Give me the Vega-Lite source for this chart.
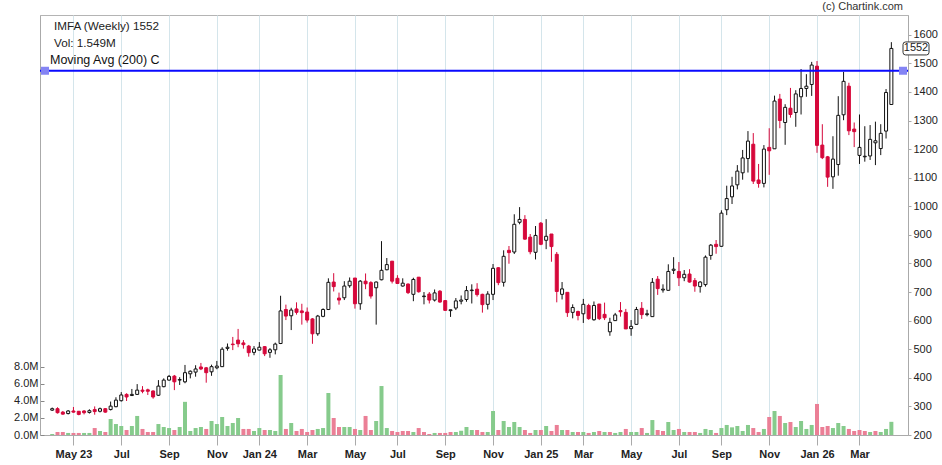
{
"$schema": "https://vega.github.io/schema/vega-lite/v6.json",
"width": 868, "height": 420,
"autosize": {"type": "none"},
"padding": {"left": 40, "top": 15, "right": 34, "bottom": 30},
"background": "white",
"config": {"view": {"stroke": "#b4b4b4"}, "font": "Liberation Sans", "text": {"font": "Liberation Sans"},
 "axisRight": {"values": [200, 300, 400, 500, 600, 700, 800, 900, 1000, 1100, 1200, 1300, 1400, 1500, 1600], "format": "d", "labelOverlap": false, "grid": true, "gridColor": "#d4e5eb", "tickSize": 3, "labelPadding": 2, "labelFontSize": 11, "labelColor": "#222", "domainColor": "#aaaaaa", "tickColor": "#aaaaaa", "title": null}},
"datasets": {
"w": [
{"d":"2023-04-03","o":287,"h":296,"l":284,"c":292,"v":0.12,"vc":"up"},
{"d":"2023-04-10","o":292,"h":297,"l":275,"c":278,"v":0.35,"vc":"down"},
{"d":"2023-04-17","o":280,"h":284,"l":271,"c":273,"v":0.35,"vc":"down"},
{"d":"2023-04-24","o":275,"h":287,"l":272,"c":284,"v":0.24,"vc":"up"},
{"d":"2023-05-01","o":284,"h":298,"l":278,"c":280,"v":0.24,"vc":"down"},
{"d":"2023-05-08","o":283,"h":284,"l":269,"c":272,"v":0.24,"vc":"down"},
{"d":"2023-05-15","o":284,"h":287,"l":272,"c":278,"v":0.24,"vc":"up"},
{"d":"2023-05-22","o":279,"h":290,"l":275,"c":285,"v":0.24,"vc":"up"},
{"d":"2023-05-29","o":289,"h":300,"l":271,"c":282,"v":0.82,"vc":"down"},
{"d":"2023-06-05","o":283,"h":296,"l":279,"c":292,"v":0.47,"vc":"up"},
{"d":"2023-06-12","o":292,"h":294,"l":278,"c":280,"v":0.35,"vc":"down"},
{"d":"2023-06-19","o":289,"h":317,"l":286,"c":301,"v":1.88,"vc":"up"},
{"d":"2023-06-26","o":299,"h":332,"l":297,"c":322,"v":1.29,"vc":"up"},
{"d":"2023-07-03","o":320,"h":350,"l":317,"c":340,"v":1.06,"vc":"up"},
{"d":"2023-07-10","o":342,"h":346,"l":319,"c":333,"v":0.59,"vc":"down"},
{"d":"2023-07-17","o":338,"h":361,"l":337,"c":342,"v":1.06,"vc":"up"},
{"d":"2023-07-24","o":342,"h":378,"l":340,"c":357,"v":2.24,"vc":"up"},
{"d":"2023-07-31","o":357,"h":371,"l":346,"c":353,"v":0.71,"vc":"down"},
{"d":"2023-08-07","o":358,"h":362,"l":340,"c":353,"v":0.35,"vc":"down"},
{"d":"2023-08-14","o":354,"h":356,"l":327,"c":333,"v":0.35,"vc":"down"},
{"d":"2023-08-21","o":339,"h":392,"l":337,"c":371,"v":1.29,"vc":"up"},
{"d":"2023-08-28","o":369,"h":398,"l":367,"c":392,"v":0.94,"vc":"up"},
{"d":"2023-09-04","o":392,"h":410,"l":390,"c":405,"v":0.82,"vc":"up"},
{"d":"2023-09-11","o":406,"h":410,"l":357,"c":386,"v":0.59,"vc":"down"},
{"d":"2023-09-18","o":392,"h":402,"l":375,"c":394,"v":0.94,"vc":"up"},
{"d":"2023-09-25","o":386,"h":445,"l":381,"c":418,"v":3.9,"vc":"up"},
{"d":"2023-10-02","o":414,"h":426,"l":398,"c":423,"v":0.47,"vc":"up"},
{"d":"2023-10-09","o":420,"h":444,"l":404,"c":431,"v":0.82,"vc":"up"},
{"d":"2023-10-16","o":438,"h":452,"l":427,"c":431,"v":0.94,"vc":"up"},
{"d":"2023-10-23","o":435,"h":438,"l":383,"c":418,"v":0.71,"vc":"down"},
{"d":"2023-10-30","o":421,"h":446,"l":407,"c":439,"v":1.65,"vc":"up"},
{"d":"2023-11-06","o":435,"h":459,"l":430,"c":441,"v":1.29,"vc":"up"},
{"d":"2023-11-13","o":439,"h":507,"l":438,"c":500,"v":2.12,"vc":"up"},
{"d":"2023-11-20","o":503,"h":520,"l":495,"c":507,"v":1.06,"vc":"up"},
{"d":"2023-11-27","o":518,"h":543,"l":497,"c":516,"v":1.41,"vc":"up"},
{"d":"2023-12-04","o":532,"h":571,"l":507,"c":519,"v":2.0,"vc":"up"},
{"d":"2023-12-11","o":522,"h":532,"l":502,"c":516,"v":0.71,"vc":"down"},
{"d":"2023-12-18","o":511,"h":515,"l":474,"c":488,"v":0.71,"vc":"down"},
{"d":"2023-12-25","o":489,"h":511,"l":479,"c":501,"v":0.47,"vc":"up"},
{"d":"2024-01-01","o":497,"h":525,"l":496,"c":507,"v":0.82,"vc":"up"},
{"d":"2024-01-08","o":509,"h":511,"l":476,"c":484,"v":0.59,"vc":"down"},
{"d":"2024-01-15","o":489,"h":504,"l":470,"c":498,"v":0.59,"vc":"up"},
{"d":"2024-01-22","o":498,"h":523,"l":482,"c":518,"v":0.47,"vc":"up"},
{"d":"2024-01-29","o":520,"h":687,"l":518,"c":634,"v":7.06,"vc":"up"},
{"d":"2024-02-05","o":639,"h":656,"l":602,"c":616,"v":0.71,"vc":"down"},
{"d":"2024-02-12","o":617,"h":645,"l":567,"c":637,"v":1.41,"vc":"up"},
{"d":"2024-02-19","o":641,"h":664,"l":621,"c":629,"v":0.47,"vc":"down"},
{"d":"2024-02-26","o":634,"h":659,"l":586,"c":628,"v":0.71,"vc":"down"},
{"d":"2024-03-04","o":630,"h":646,"l":593,"c":602,"v":0.35,"vc":"down"},
{"d":"2024-03-11","o":606,"h":609,"l":519,"c":554,"v":0.59,"vc":"down"},
{"d":"2024-03-18","o":554,"h":620,"l":547,"c":616,"v":0.71,"vc":"up"},
{"d":"2024-03-25","o":615,"h":643,"l":612,"c":639,"v":0.82,"vc":"up"},
{"d":"2024-04-01","o":639,"h":748,"l":637,"c":734,"v":4.94,"vc":"up"},
{"d":"2024-04-08","o":735,"h":766,"l":702,"c":719,"v":2.0,"vc":"down"},
{"d":"2024-04-15","o":679,"h":698,"l":656,"c":672,"v":0.94,"vc":"down"},
{"d":"2024-04-22","o":680,"h":738,"l":672,"c":721,"v":0.94,"vc":"up"},
{"d":"2024-04-29","o":722,"h":751,"l":715,"c":738,"v":0.94,"vc":"up"},
{"d":"2024-05-06","o":749,"h":749,"l":642,"c":659,"v":0.71,"vc":"down"},
{"d":"2024-05-13","o":659,"h":742,"l":638,"c":738,"v":0.59,"vc":"up"},
{"d":"2024-05-20","o":738,"h":765,"l":710,"c":729,"v":2.24,"vc":"down"},
{"d":"2024-05-27","o":733,"h":738,"l":677,"c":686,"v":0.59,"vc":"down"},
{"d":"2024-06-03","o":715,"h":737,"l":586,"c":735,"v":1.65,"vc":"up"},
{"d":"2024-06-10","o":743,"h":878,"l":741,"c":776,"v":5.76,"vc":"up"},
{"d":"2024-06-17","o":778,"h":819,"l":776,"c":796,"v":0.82,"vc":"up"},
{"d":"2024-06-24","o":808,"h":808,"l":730,"c":738,"v":0.47,"vc":"down"},
{"d":"2024-07-01","o":748,"h":759,"l":728,"c":730,"v":0.35,"vc":"down"},
{"d":"2024-07-08","o":721,"h":748,"l":719,"c":731,"v":0.47,"vc":"down"},
{"d":"2024-07-15","o":728,"h":730,"l":693,"c":698,"v":0.47,"vc":"down"},
{"d":"2024-07-22","o":692,"h":750,"l":668,"c":744,"v":0.35,"vc":"up"},
{"d":"2024-07-29","o":752,"h":752,"l":698,"c":701,"v":0.82,"vc":"down"},
{"d":"2024-08-05","o":684,"h":700,"l":657,"c":686,"v":0.35,"vc":"down"},
{"d":"2024-08-12","o":693,"h":700,"l":660,"c":672,"v":0.12,"vc":"down"},
{"d":"2024-08-19","o":672,"h":709,"l":667,"c":697,"v":0.24,"vc":"up"},
{"d":"2024-08-26","o":703,"h":707,"l":663,"c":665,"v":0.24,"vc":"down"},
{"d":"2024-09-02","o":670,"h":672,"l":634,"c":636,"v":0.24,"vc":"down"},
{"d":"2024-09-09","o":635,"h":638,"l":613,"c":638,"v":0.35,"vc":"down"},
{"d":"2024-09-16","o":644,"h":679,"l":637,"c":669,"v":0.35,"vc":"up"},
{"d":"2024-09-23","o":668,"h":688,"l":657,"c":672,"v":0.5,"vc":"up"},
{"d":"2024-09-30","o":674,"h":721,"l":666,"c":705,"v":0.94,"vc":"up"},
{"d":"2024-10-07","o":705,"h":727,"l":660,"c":707,"v":0.59,"vc":"up"},
{"d":"2024-10-14","o":710,"h":731,"l":684,"c":691,"v":0.59,"vc":"down"},
{"d":"2024-10-21","o":692,"h":694,"l":628,"c":656,"v":0.35,"vc":"down"},
{"d":"2024-10-28","o":657,"h":703,"l":639,"c":693,"v":0.35,"vc":"up"},
{"d":"2024-11-04","o":692,"h":798,"l":672,"c":783,"v":2.82,"vc":"up"},
{"d":"2024-11-11","o":785,"h":787,"l":724,"c":733,"v":0.59,"vc":"down"},
{"d":"2024-11-18","o":734,"h":846,"l":719,"c":825,"v":1.65,"vc":"up"},
{"d":"2024-11-25","o":846,"h":861,"l":799,"c":838,"v":0.94,"vc":"up"},
{"d":"2024-12-02","o":840,"h":972,"l":833,"c":937,"v":1.53,"vc":"up"},
{"d":"2024-12-09","o":944,"h":997,"l":937,"c":954,"v":0.94,"vc":"up"},
{"d":"2024-12-16","o":954,"h":969,"l":883,"c":885,"v":0.59,"vc":"down"},
{"d":"2024-12-23","o":892,"h":903,"l":832,"c":841,"v":0.24,"vc":"down"},
{"d":"2024-12-30","o":839,"h":931,"l":814,"c":898,"v":0.59,"vc":"up"},
{"d":"2025-01-06","o":941,"h":945,"l":864,"c":867,"v":0.59,"vc":"down"},
{"d":"2025-01-13","o":881,"h":955,"l":850,"c":895,"v":1.06,"vc":"up"},
{"d":"2025-01-20","o":903,"h":903,"l":806,"c":859,"v":0.47,"vc":"down"},
{"d":"2025-01-27","o":832,"h":840,"l":664,"c":702,"v":1.18,"vc":"down"},
{"d":"2025-02-03","o":692,"h":735,"l":674,"c":711,"v":0.59,"vc":"up"},
{"d":"2025-02-10","o":699,"h":699,"l":613,"c":628,"v":0.59,"vc":"down"},
{"d":"2025-02-17","o":629,"h":657,"l":608,"c":646,"v":0.35,"vc":"up"},
{"d":"2025-02-24","o":632,"h":635,"l":601,"c":618,"v":0.35,"vc":"down"},
{"d":"2025-03-03","o":624,"h":676,"l":592,"c":657,"v":0.35,"vc":"up"},
{"d":"2025-03-10","o":653,"h":659,"l":603,"c":607,"v":0.24,"vc":"down"},
{"d":"2025-03-17","o":603,"h":667,"l":600,"c":653,"v":0.35,"vc":"up"},
{"d":"2025-03-24","o":658,"h":658,"l":602,"c":607,"v":0.47,"vc":"down"},
{"d":"2025-03-31","o":622,"h":663,"l":602,"c":610,"v":0.35,"vc":"up"},
{"d":"2025-04-07","o":561,"h":610,"l":547,"c":594,"v":0.35,"vc":"down"},
{"d":"2025-04-14","o":600,"h":627,"l":600,"c":620,"v":0.24,"vc":"up"},
{"d":"2025-04-21","o":635,"h":665,"l":614,"c":631,"v":0.35,"vc":"up"},
{"d":"2025-04-28","o":629,"h":641,"l":571,"c":571,"v":0.71,"vc":"down"},
{"d":"2025-05-05","o":572,"h":602,"l":547,"c":580,"v":0.35,"vc":"up"},
{"d":"2025-05-12","o":587,"h":648,"l":586,"c":639,"v":0.35,"vc":"up"},
{"d":"2025-05-19","o":643,"h":665,"l":606,"c":621,"v":0.82,"vc":"down"},
{"d":"2025-05-26","o":621,"h":638,"l":615,"c":624,"v":0.24,"vc":"up"},
{"d":"2025-06-02","o":614,"h":749,"l":614,"c":734,"v":1.76,"vc":"up"},
{"d":"2025-06-09","o":745,"h":756,"l":690,"c":712,"v":0.59,"vc":"down"},
{"d":"2025-06-16","o":707,"h":727,"l":698,"c":710,"v":0.47,"vc":"down"},
{"d":"2025-06-23","o":706,"h":797,"l":706,"c":772,"v":1.53,"vc":"up"},
{"d":"2025-06-30","o":776,"h":822,"l":763,"c":780,"v":0.59,"vc":"up"},
{"d":"2025-07-07","o":772,"h":805,"l":721,"c":750,"v":0.71,"vc":"down"},
{"d":"2025-07-14","o":750,"h":777,"l":738,"c":762,"v":0.35,"vc":"up"},
{"d":"2025-07-21","o":763,"h":780,"l":733,"c":735,"v":0.35,"vc":"down"},
{"d":"2025-07-28","o":740,"h":749,"l":701,"c":721,"v":0.35,"vc":"down"},
{"d":"2025-08-04","o":719,"h":738,"l":698,"c":735,"v":0.24,"vc":"up"},
{"d":"2025-08-11","o":726,"h":828,"l":719,"c":822,"v":0.71,"vc":"up"},
{"d":"2025-08-18","o":828,"h":868,"l":813,"c":864,"v":0.59,"vc":"up"},
{"d":"2025-08-25","o":867,"h":882,"l":834,"c":859,"v":0.24,"vc":"down"},
{"d":"2025-09-01","o":860,"h":986,"l":858,"c":976,"v":0.82,"vc":"up"},
{"d":"2025-09-08","o":988,"h":1072,"l":969,"c":1027,"v":1.18,"vc":"up"},
{"d":"2025-09-15","o":1033,"h":1103,"l":1008,"c":1071,"v":0.9,"vc":"up"},
{"d":"2025-09-22","o":1075,"h":1144,"l":1059,"c":1123,"v":1.06,"vc":"up"},
{"d":"2025-09-29","o":1117,"h":1197,"l":1093,"c":1169,"v":0.47,"vc":"up"},
{"d":"2025-10-06","o":1167,"h":1263,"l":1118,"c":1228,"v":1.18,"vc":"up"},
{"d":"2025-10-13","o":1217,"h":1256,"l":1078,"c":1088,"v":0.82,"vc":"down"},
{"d":"2025-10-20","o":1092,"h":1148,"l":1065,"c":1080,"v":0.35,"vc":"down"},
{"d":"2025-10-27","o":1080,"h":1214,"l":1066,"c":1200,"v":0.71,"vc":"up"},
{"d":"2025-11-03","o":1206,"h":1273,"l":1110,"c":1194,"v":2.12,"vc":"down"},
{"d":"2025-11-10","o":1201,"h":1387,"l":1201,"c":1368,"v":2.82,"vc":"up"},
{"d":"2025-11-17","o":1375,"h":1393,"l":1273,"c":1300,"v":2.24,"vc":"down"},
{"d":"2025-11-24","o":1293,"h":1357,"l":1215,"c":1346,"v":1.41,"vc":"up"},
{"d":"2025-12-01","o":1343,"h":1414,"l":1310,"c":1321,"v":1.53,"vc":"down"},
{"d":"2025-12-08","o":1328,"h":1406,"l":1278,"c":1393,"v":0.94,"vc":"up"},
{"d":"2025-12-15","o":1383,"h":1480,"l":1321,"c":1412,"v":1.65,"vc":"up"},
{"d":"2025-12-22","o":1412,"h":1462,"l":1383,"c":1420,"v":0.71,"vc":"up"},
{"d":"2025-12-29","o":1426,"h":1505,"l":1386,"c":1494,"v":1.18,"vc":"up"},
{"d":"2026-01-05","o":1490,"h":1508,"l":1187,"c":1213,"v":3.65,"vc":"down"},
{"d":"2026-01-12","o":1214,"h":1287,"l":1165,"c":1170,"v":0.94,"vc":"down"},
{"d":"2026-01-19","o":1173,"h":1176,"l":1068,"c":1102,"v":1.06,"vc":"down"},
{"d":"2026-01-26","o":1103,"h":1245,"l":1061,"c":1165,"v":0.82,"vc":"up"},
{"d":"2026-02-02","o":1146,"h":1385,"l":1107,"c":1318,"v":1.41,"vc":"up"},
{"d":"2026-02-09","o":1320,"h":1470,"l":1301,"c":1437,"v":1.06,"vc":"up"},
{"d":"2026-02-16","o":1420,"h":1432,"l":1249,"c":1264,"v":0.71,"vc":"down"},
{"d":"2026-02-23","o":1270,"h":1293,"l":1207,"c":1261,"v":0.47,"vc":"down"},
{"d":"2026-03-02","o":1178,"h":1321,"l":1148,"c":1206,"v":0.59,"vc":"down"},
{"d":"2026-03-09","o":1173,"h":1280,"l":1156,"c":1175,"v":0.47,"vc":"down"},
{"d":"2026-03-16","o":1176,"h":1284,"l":1162,"c":1234,"v":0.35,"vc":"up"},
{"d":"2026-03-23","o":1222,"h":1296,"l":1144,"c":1229,"v":0.47,"vc":"down"},
{"d":"2026-03-30","o":1202,"h":1287,"l":1179,"c":1255,"v":0.35,"vc":"up"},
{"d":"2026-04-06","o":1263,"h":1410,"l":1237,"c":1398,"v":0.71,"vc":"up"},
{"d":"2026-04-13","o":1356,"h":1574,"l":1356,"c":1552,"v":1.549,"vc":"up"}
],
"ends": [{"d": "2023-03-24T12:00:00Z", "p": 1474}, {"d": "2026-04-28T08:00:00Z", "p": 1474}]
},
"layer": [
{
"data": {"name": "w"},
"mark": {"type": "bar", "width": 4},
"encoding": {
"x": {"field": "d", "type": "temporal", "title": null,
 "scale": {"type": "utc", "nice": false, "domain": [{"year": 2023, "month": 3, "date": 24, "hours": 12, "utc": true}, {"year": 2026, "month": 4, "date": 28, "hours": 8, "utc": true}]},
 "axis": {
  "values": [
   {"year": 2023, "month": 5, "date": 1, "utc": true}, {"year": 2023, "month": 6, "date": 5, "utc": true}, {"year": 2023, "month": 7, "date": 3, "utc": true}, {"year": 2023, "month": 8, "date": 7, "utc": true}, {"year": 2023, "month": 9, "date": 4, "utc": true}, {"year": 2023, "month": 10, "date": 2, "utc": true}, {"year": 2023, "month": 11, "date": 6, "utc": true}, {"year": 2023, "month": 12, "date": 4, "utc": true},
   {"year": 2024, "month": 1, "date": 1, "utc": true}, {"year": 2024, "month": 2, "date": 5, "utc": true}, {"year": 2024, "month": 3, "date": 4, "utc": true}, {"year": 2024, "month": 4, "date": 1, "utc": true}, {"year": 2024, "month": 5, "date": 6, "utc": true}, {"year": 2024, "month": 6, "date": 3, "utc": true}, {"year": 2024, "month": 7, "date": 1, "utc": true}, {"year": 2024, "month": 8, "date": 5, "utc": true}, {"year": 2024, "month": 9, "date": 2, "utc": true}, {"year": 2024, "month": 10, "date": 7, "utc": true}, {"year": 2024, "month": 11, "date": 4, "utc": true}, {"year": 2024, "month": 12, "date": 2, "utc": true},
   {"year": 2025, "month": 1, "date": 6, "utc": true}, {"year": 2025, "month": 2, "date": 3, "utc": true}, {"year": 2025, "month": 3, "date": 3, "utc": true}, {"year": 2025, "month": 4, "date": 7, "utc": true}, {"year": 2025, "month": 5, "date": 5, "utc": true}, {"year": 2025, "month": 6, "date": 2, "utc": true}, {"year": 2025, "month": 7, "date": 7, "utc": true}, {"year": 2025, "month": 8, "date": 4, "utc": true}, {"year": 2025, "month": 9, "date": 1, "utc": true}, {"year": 2025, "month": 10, "date": 6, "utc": true}, {"year": 2025, "month": 11, "date": 3, "utc": true}, {"year": 2025, "month": 12, "date": 1, "utc": true},
   {"year": 2026, "month": 1, "date": 5, "utc": true}, {"year": 2026, "month": 2, "date": 2, "utc": true}, {"year": 2026, "month": 3, "date": 2, "utc": true}, {"year": 2026, "month": 4, "date": 6, "utc": true}
  ],
  "labelExpr": "utcmonth(datum.value) % 2 == 0 ? ((utcmonth(datum.value) == 0 || (utcyear(datum.value) == 2023 && utcmonth(datum.value) == 4)) ? utcFormat(datum.value, '%b %y') : utcFormat(datum.value, '%b')) : ''",
  "tickSize": {"condition": {"test": "utcmonth(datum.value) % 2 == 0", "value": 10}, "value": 3},
  "grid": true, "gridColor": "#d4e5eb", "gridWidth": 1,
  "labelFontWeight": "bold", "labelFontSize": 11, "labelColor": "#222", "labelPadding": 3,
  "labelOverlap": false, "labelFlush": false,
  "domainColor": "#aaaaaa", "tickColor": "#aaaaaa", "title": null
 }
},
"y": {"field": "v", "type": "quantitative", "title": null,
 "scale": {"domain": [0, 49.4], "nice": false, "zero": true},
 "axis": {"orient": "left", "values": [0, 2, 4, 6, 8], "labelExpr": "format(datum.value, '.1f') + 'M'", "grid": false,
  "tickSize": -4, "labelPadding": 6, "labelFontSize": 11, "labelColor": "#222", "domainColor": "#aaaaaa", "tickColor": "#888888", "title": null}
},
"color": {"field": "vc", "type": "nominal", "scale": {"domain": ["up", "down"], "range": ["#86cb8c", "#eb7f96"]}, "legend": null}
}
},
{
"layer": [
{
"data": {"name": "w"},
"mark": {"type": "rule", "strokeWidth": 1},
"encoding": {
"x": {"field": "d", "type": "temporal", "title": null, "scale": {"type": "utc", "nice": false, "domain": [{"year": 2023, "month": 3, "date": 24, "hours": 12, "utc": true}, {"year": 2026, "month": 4, "date": 28, "hours": 8, "utc": true}]}},
"y": {"field": "l", "type": "quantitative", "title": null, "scale": {"domain": [200, 1669], "nice": false, "zero": false}, "axis": {"orient": "right", "values": [200, 300, 400, 500, 600, 700, 800, 900, 1000, 1100, 1200, 1300, 1400, 1500, 1600], "format": "d", "labelOverlap": false}},
"y2": {"field": "h"},
"stroke": {"condition": {"test": "datum.c >= datum.o", "value": "#111111"}, "value": "#d6083b"}
}
},
{
"data": {"name": "w"},
"mark": {"type": "bar", "width": 3, "strokeWidth": 1},
"encoding": {
"x": {"field": "d", "type": "temporal", "title": null, "scale": {"type": "utc", "nice": false, "domain": [{"year": 2023, "month": 3, "date": 24, "hours": 12, "utc": true}, {"year": 2026, "month": 4, "date": 28, "hours": 8, "utc": true}]}},
"y": {"field": "o", "type": "quantitative", "title": null, "scale": {"domain": [200, 1669], "nice": false, "zero": false}, "axis": {"orient": "right", "values": [200, 300, 400, 500, 600, 700, 800, 900, 1000, 1100, 1200, 1300, 1400, 1500, 1600], "format": "d", "labelOverlap": false}},
"y2": {"field": "c"},
"fill": {"condition": {"test": "datum.c >= datum.o", "value": "#ffffff"}, "value": "#d6083b"},
"stroke": {"condition": {"test": "datum.c >= datum.o", "value": "#111111"}, "value": "#d6083b"}
}
},
{
"data": {"values": [{}]},
"mark": {"type": "rule", "color": "#0a0aff", "strokeWidth": 2},
"encoding": {
"y": {"datum": 1474, "type": "quantitative", "title": null, "scale": {"domain": [200, 1669], "nice": false, "zero": false}, "axis": {"orient": "right", "values": [200, 300, 400, 500, 600, 700, 800, 900, 1000, 1100, 1200, 1300, 1400, 1500, 1600], "format": "d", "labelOverlap": false}}
}
},
{
"data": {"name": "ends"},
"mark": {"type": "point", "shape": "square", "filled": true, "size": 64, "color": "#8484f4", "opacity": 1},
"encoding": {
"x": {"field": "d", "type": "temporal", "title": null, "scale": {"type": "utc", "nice": false, "domain": [{"year": 2023, "month": 3, "date": 24, "hours": 12, "utc": true}, {"year": 2026, "month": 4, "date": 28, "hours": 8, "utc": true}]}},
"y": {"field": "p", "type": "quantitative", "title": null, "scale": {"domain": [200, 1669], "nice": false, "zero": false}, "axis": {"orient": "right", "values": [200, 300, 400, 500, 600, 700, 800, 900, 1000, 1100, 1200, 1300, 1400, 1500, 1600], "format": "d", "labelOverlap": false}}
}
},
{
"data": {"values": [{}]},
"mark": {"type": "point", "shape": "M -1.6 -1 L 1.6 -1 Q 2 -1 2 -0.6 L 2 0.6 Q 2 1 1.6 1 L -1.6 1 Q -2 1 -2 0.6 L -2 -0.6 Q -2 -1 -1.6 -1 Z", "size": 169, "filled": true, "fill": "#ffffff", "stroke": "#333333", "strokeWidth": 1, "opacity": 1, "xOffset": 13},
"encoding": {
"x": {"datum": {"year": 2026, "month": 4, "date": 28, "hours": 8, "utc": true}, "type": "temporal", "title": null, "scale": {"type": "utc", "nice": false, "domain": [{"year": 2023, "month": 3, "date": 24, "hours": 12, "utc": true}, {"year": 2026, "month": 4, "date": 28, "hours": 8, "utc": true}]}},
"y": {"datum": 1552, "type": "quantitative", "title": null, "scale": {"domain": [200, 1669], "nice": false, "zero": false}, "axis": {"orient": "right", "values": [200, 300, 400, 500, 600, 700, 800, 900, 1000, 1100, 1200, 1300, 1400, 1500, 1600], "format": "d", "labelOverlap": false}}
}
},
{
"data": {"values": [{}]},
"mark": {"type": "text", "text": "1552", "fontSize": 11, "color": "#222222", "align": "center", "baseline": "middle", "dx": 13},
"encoding": {
"x": {"datum": {"year": 2026, "month": 4, "date": 28, "hours": 8, "utc": true}, "type": "temporal", "title": null, "scale": {"type": "utc", "nice": false, "domain": [{"year": 2023, "month": 3, "date": 24, "hours": 12, "utc": true}, {"year": 2026, "month": 4, "date": 28, "hours": 8, "utc": true}]}},
"y": {"datum": 1552, "type": "quantitative", "title": null, "scale": {"domain": [200, 1669], "nice": false, "zero": false}, "axis": {"orient": "right", "values": [200, 300, 400, 500, 600, 700, 800, 900, 1000, 1100, 1200, 1300, 1400, 1500, 1600], "format": "d", "labelOverlap": false}}
}
},
{
"data": {"values": [{}]},
"mark": {"type": "text", "text": "(c) Chartink.com", "fontSize": 11, "color": "#333333", "align": "right", "baseline": "middle"},
"encoding": {
"x": {"datum": {"year": 2026, "month": 4, "date": 28, "hours": 8, "utc": true}, "type": "temporal", "title": null, "scale": {"type": "utc", "nice": false, "domain": [{"year": 2023, "month": 3, "date": 24, "hours": 12, "utc": true}, {"year": 2026, "month": 4, "date": 28, "hours": 8, "utc": true}]}},
"y": {"datum": 1698, "type": "quantitative", "title": null, "scale": {"domain": [200, 1669], "nice": false, "zero": false}, "axis": {"orient": "right", "values": [200, 300, 400, 500, 600, 700, 800, 900, 1000, 1100, 1200, 1300, 1400, 1500, 1600], "format": "d", "labelOverlap": false}}
}
},
{
"data": {"values": [{}]},
"mark": {"type": "text", "text": "IMFA (Weekly) 1552", "fontSize": 11.7, "color": "#222222", "align": "left", "baseline": "middle", "dx": 9},
"encoding": {
"x": {"datum": {"year": 2023, "month": 3, "date": 24, "hours": 12, "utc": true}, "type": "temporal", "title": null, "scale": {"type": "utc", "nice": false, "domain": [{"year": 2023, "month": 3, "date": 24, "hours": 12, "utc": true}, {"year": 2026, "month": 4, "date": 28, "hours": 8, "utc": true}]}},
"y": {"datum": 1630, "type": "quantitative", "title": null, "scale": {"domain": [200, 1669], "nice": false, "zero": false}, "axis": {"orient": "right", "values": [200, 300, 400, 500, 600, 700, 800, 900, 1000, 1100, 1200, 1300, 1400, 1500, 1600], "format": "d", "labelOverlap": false}}
}
},
{
"data": {"values": [{}]},
"mark": {"type": "text", "text": "Vol: 1.549M", "fontSize": 11.7, "color": "#222222", "align": "left", "baseline": "middle", "dx": 9},
"encoding": {
"x": {"datum": {"year": 2023, "month": 3, "date": 24, "hours": 12, "utc": true}, "type": "temporal", "title": null, "scale": {"type": "utc", "nice": false, "domain": [{"year": 2023, "month": 3, "date": 24, "hours": 12, "utc": true}, {"year": 2026, "month": 4, "date": 28, "hours": 8, "utc": true}]}},
"y": {"datum": 1571, "type": "quantitative", "title": null, "scale": {"domain": [200, 1669], "nice": false, "zero": false}, "axis": {"orient": "right", "values": [200, 300, 400, 500, 600, 700, 800, 900, 1000, 1100, 1200, 1300, 1400, 1500, 1600], "format": "d", "labelOverlap": false}}
}
},
{
"data": {"values": [{}]},
"mark": {"type": "text", "text": "Moving Avg (200) C", "fontSize": 12.5, "color": "#111111", "align": "left", "baseline": "middle", "dx": 5},
"encoding": {
"x": {"datum": {"year": 2023, "month": 3, "date": 24, "hours": 12, "utc": true}, "type": "temporal", "title": null, "scale": {"type": "utc", "nice": false, "domain": [{"year": 2023, "month": 3, "date": 24, "hours": 12, "utc": true}, {"year": 2026, "month": 4, "date": 28, "hours": 8, "utc": true}]}},
"y": {"datum": 1511, "type": "quantitative", "title": null, "scale": {"domain": [200, 1669], "nice": false, "zero": false}, "axis": {"orient": "right", "values": [200, 300, 400, 500, 600, 700, 800, 900, 1000, 1100, 1200, 1300, 1400, 1500, 1600], "format": "d", "labelOverlap": false}}
}
}
]
}
],
"resolve": {"scale": {"y": "independent"}, "axis": {"y": "independent"}}
}
